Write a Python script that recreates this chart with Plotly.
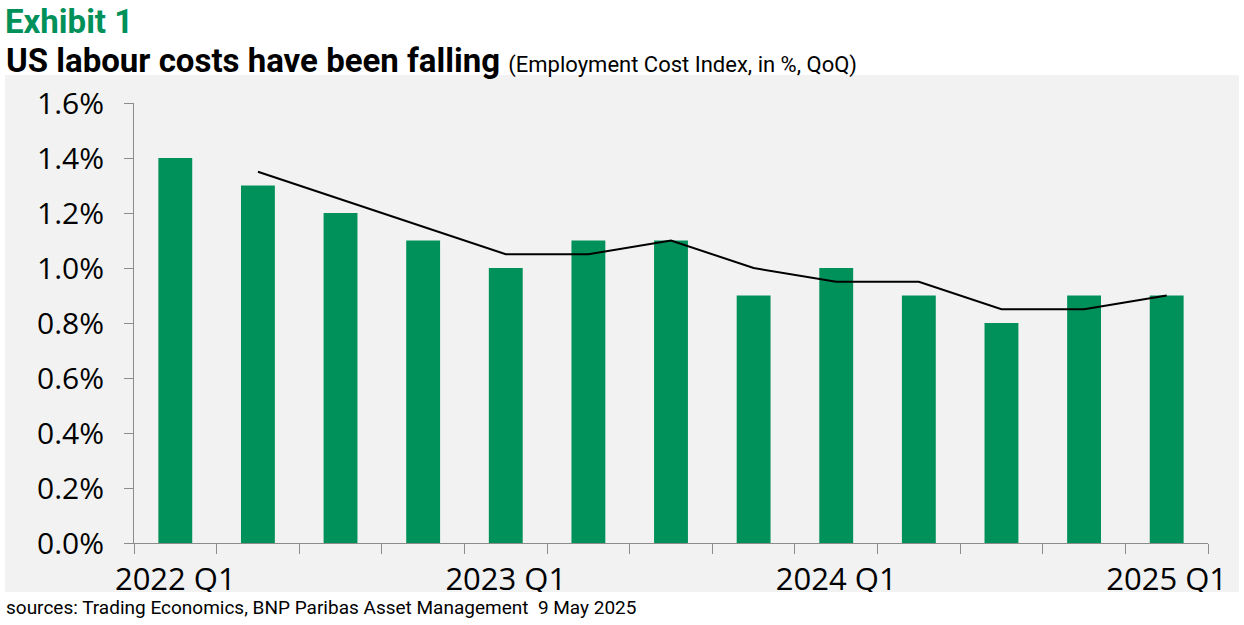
import plotly.graph_objects as go

"""
US Employment Cost Index, QoQ % change, bars plus trend line
"""

quarters = ["2022 Q1", "2022 Q2", "2022 Q3", "2022 Q4",
            "2023 Q1", "2023 Q2", "2023 Q3", "2023 Q4",
            "2024 Q1", "2024 Q2", "2024 Q3", "2024 Q4",
            "2025 Q1"]

eci_qoq = [1.4, 1.3, 1.2, 1.1, 1.0, 1.1, 1.1, 0.9, 1.0, 0.9, 0.8, 0.9, 0.9]

# trend line starts in the second quarter
trend = [None, 1.35, 1.25, 1.15, 1.05, 1.05, 1.1, 1.0, 0.95, 0.95, 0.85, 0.85, 0.9]

shown_labels = ["2022 Q1", "2023 Q1", "2024 Q1", "2025 Q1"]

GREEN = "#00915A"
PANEL = "#F2F2F2"
AXIS_GREY = "#8C8C8C"

TITLE_FONT = "Roboto, sans-serif"
TICK_FONT = "Open Sans, Noto Sans, sans-serif"

W, H = 1244, 625
PLOT_L, PLOT_R, PLOT_T, PLOT_B = 134, 1208, 103, 543   # pixels


def px_x(x):
    # pixel -> paper coordinate
    return (x - PLOT_L) / (PLOT_R - PLOT_L)


def px_y(y):
    return (PLOT_B - y) / (PLOT_B - PLOT_T)


def main():

    fig = go.Figure()

    fig.add_trace(go.Bar(x=quarters, y=eci_qoq, marker_color=GREEN,
                         marker_line_width=0, name="ECI QoQ"))
    fig.add_trace(go.Scatter(x=quarters, y=trend, mode="lines",
                             line=dict(color="black", width=2),
                             connectgaps=False, name="trend"))

    # grey panel behind the chart
    fig.add_shape(type="rect", xref="paper", yref="paper",
                  x0=px_x(5), x1=px_x(1239), y0=px_y(592), y1=px_y(75),
                  fillcolor=PANEL, line_width=0, layer="below")
    # white strip that clips the bottom of the x labels
    fig.add_shape(type="rect", xref="paper", yref="paper",
                  x0=px_x(0), x1=px_x(W), y0=px_y(H), y1=px_y(592),
                  fillcolor="white", line_width=0, layer="above")

    fig.add_annotation(text="<b>Exhibit 1</b>", xref="paper", yref="paper",
                       x=px_x(4), y=px_y(1), xanchor="left", yanchor="top",
                       borderpad=0, showarrow=False,
                       font=dict(family=TITLE_FONT, size=33, color=GREEN))
    fig.add_annotation(text="<b>US labour costs have been falling</b> "
                            "<span style='font-size:22px'>(Employment Cost Index, in %, QoQ)</span>",
                       xref="paper", yref="paper",
                       x=px_x(4), y=px_y(39), xanchor="left", yanchor="top",
                       showarrow=False, font=dict(family=TITLE_FONT, size=33, color="black"))
    fig.add_annotation(text="sources: Trading Economics, BNP Paribas Asset Management  9 May 2025",
                       xref="paper", yref="paper",
                       x=px_x(4), y=px_y(607), xanchor="left", yanchor="middle",
                       showarrow=False, font=dict(family=TITLE_FONT, size=19, color="black"))

    ticktext = [q if q in shown_labels else "" for q in quarters]

    fig.update_layout(
        width=W, height=H,
        margin=dict(l=PLOT_L, r=W - PLOT_R, t=PLOT_T, b=H - PLOT_B),
        paper_bgcolor="white", plot_bgcolor=PANEL,
        showlegend=False, bargap=0.59,
        font=dict(family=TICK_FONT, color="black"),
        xaxis=dict(type="category", tickmode="array", tickvals=quarters, ticktext=ticktext,
                   tickson="boundaries", ticks="outside", ticklen=10, tickcolor=AXIS_GREY,
                   showline=True, linecolor=AXIS_GREY, linewidth=1, showgrid=False,
                   tickfont=dict(size=31, family=TICK_FONT), tickangle=0,
                   ticklabelstandoff=9, fixedrange=True),
        yaxis=dict(range=[0, 1.6], dtick=0.2, tick0=0, tickformat=".1f", ticksuffix="%",
                   ticks="outside", ticklen=9, tickcolor=AXIS_GREY,
                   showline=True, linecolor=AXIS_GREY, linewidth=1,
                   showgrid=False, zeroline=False, ticklabelstandoff=14,
                   tickfont=dict(size=30, family=TICK_FONT), fixedrange=True),
    )

    # drop the default page margin so the figure sits at the window corner
    fig.write_html("out.html", config={"displayModeBar": False},
                   post_script="document.body.style.margin = '0px';")


if __name__ == "__main__":

    main()
